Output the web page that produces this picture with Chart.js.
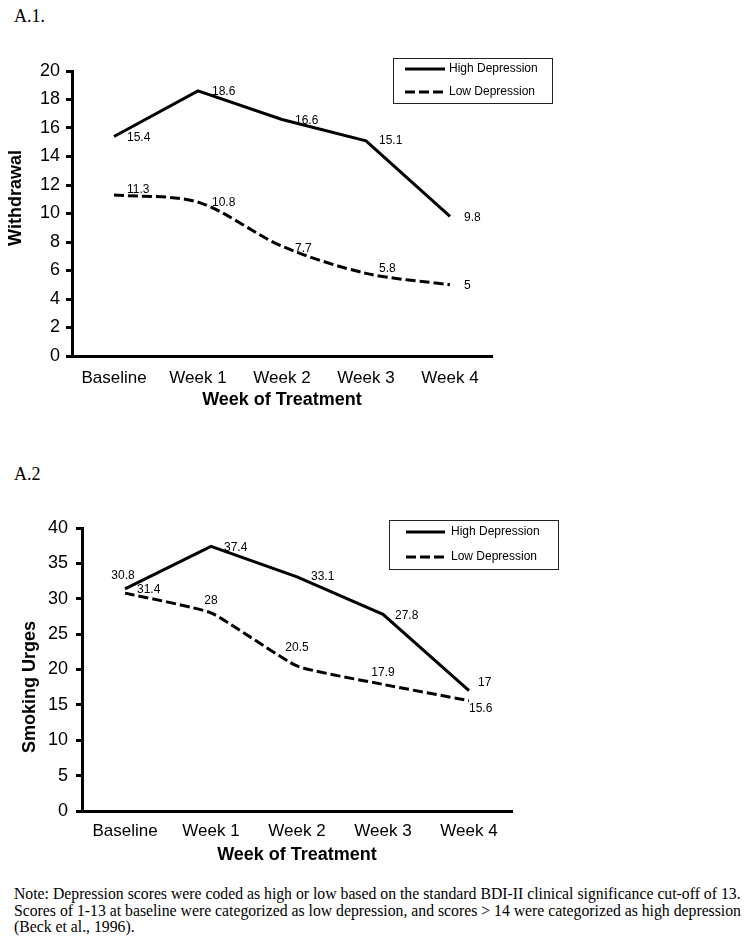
<!DOCTYPE html>
<html>
<head>
<meta charset="utf-8">
<title>Withdrawal and Smoking Urges by Depression Group</title>
<script src="https://cdn.jsdelivr.net/npm/chart.js@4.4.1/dist/chart.umd.min.js"></script>
<style>
    body { margin: 0; background: #fff; width: 751px; height: 947px; position: relative; overflow: hidden; }
    .panel-label { position: absolute; left: 14px; font: 18px "Liberation Serif", "Times New Roman", serif; color: #000; line-height: 20px; }
    .chart-box { position: absolute; left: 0; width: 751px; }
    #note { position: absolute; left: 14px; top: 886px; font: 16px/16.7px "Liberation Serif", "Times New Roman", serif; color: #000; white-space: nowrap; transform-origin: 0 0; }
</style>
</head>
<body>
<div class="panel-label" style="top:6px">A.1.</div>
<div class="chart-box" style="top:0; height:411px"><canvas id="grafico-abstinencia"></canvas></div>

<div class="panel-label" style="top:464px">A.2</div>
<div class="chart-box" style="top:440px; height:426px"><canvas id="grafico-urgencias"></canvas></div>

<div id="note">
    <div>Note: Depression scores were coded as high or low based on the standard BDI-II clinical significance cut-off of 13.</div>
    <div>Scores of 1-13 at baseline were categorized as low depression, and scores &gt; 14 were categorized as high depression</div>
    <div>(Beck et al., 1996).</div>
</div>

<script>
// --- DATOS ---
const weeks = ['Baseline', 'Week 1', 'Week 2', 'Week 3', 'Week 4'];
const seriesNames = ['High Depression', 'Low Depression'];

const withdrawalHigh = [15.4, 18.6, 16.6, 15.1, 9.8];
const withdrawalLow = [11.3, 10.8, 7.7, 5.8, 5];

const urgesHigh = [31.4, 37.4, 33.1, 27.8, 17];
const urgesLow = [30.8, 28, 20.5, 17.9, 15.6];

const withdrawalRange = [0, 20, 2];
const urgesRange = [0, 40, 5];

const SANS = '"Liberation Sans", Arial, Helvetica, sans-serif';

// --- PLUGINS ---
// etiquetas de valor junto a cada punto
const etiquetasPlugin = {
    id: 'etiquetas',
    afterDatasetsDraw(chart, args, opts) {
        const ctx = chart.ctx;
        ctx.save();
        ctx.font = '12px ' + SANS;
        ctx.fillStyle = '#000';
        ctx.textBaseline = 'middle';
        chart.data.datasets.forEach((ds, i) => {
            chart.getDatasetMeta(i).data.forEach((pt, j) => {
                const [dx, dy, align] = opts.offsets[i][j];
                ctx.textAlign = align || 'left';
                ctx.fillText(String(ds.data[j]), pt.x + dx, pt.y + dy);
            });
        });
        ctx.restore();
    }
};

// leyenda con recuadro, como en la figura original
const leyendaPlugin = {
    id: 'leyenda',
    afterDraw(chart, args, opts) {
        const ctx = chart.ctx;
        const b = opts.box;
        ctx.save();
        ctx.strokeStyle = '#222';
        ctx.lineWidth = 1;
        ctx.strokeRect(b.x + 0.5, b.y + 0.5, b.w, b.h);
        ctx.font = '12px ' + SANS;
        ctx.fillStyle = '#000';
        ctx.textBaseline = 'middle';
        ctx.textAlign = 'left';
        chart.data.datasets.forEach((ds, i) => {
            const y = b.rows[i];
            ctx.beginPath();
            ctx.setLineDash(ds.borderDash || []);
            ctx.lineWidth = 3;
            ctx.strokeStyle = '#000';
            ctx.moveTo(b.lineX[0], y);
            ctx.lineTo(b.lineX[1], y);
            ctx.stroke();
            ctx.setLineDash([]);
            ctx.fillText(ds.label, b.textX, y);
        });
        ctx.restore();
    }
};

// titulo vertical del eje Y
const tituloYPlugin = {
    id: 'tituloY',
    afterDraw(chart, args, opts) {
        const ctx = chart.ctx;
        ctx.save();
        ctx.translate(opts.x, opts.y);
        ctx.rotate(-Math.PI / 2);
        ctx.font = 'bold 18px ' + SANS;
        ctx.fillStyle = '#000';
        ctx.textAlign = 'center';
        ctx.textBaseline = 'middle';
        ctx.fillText(opts.text, 0, 0);
        ctx.restore();
    }
};

// --- FUNCION PARA CREAR CADA GRAFICO ---
const crearGrafico = (id, p) => {
    const [yMin, yMax, yStep] = p.range;
    return new Chart(document.getElementById(id), {
        type: 'line',
        data: {
            labels: weeks,
            datasets: [{
                label: seriesNames[0],
                data: p.high,
                borderColor: '#000',
                borderWidth: 3,
                pointRadius: 0,
                tension: 0
            }, {
                label: seriesNames[1],
                data: p.low,
                borderColor: '#000',
                borderWidth: 3,
                borderDash: [10, 4],
                pointRadius: 0,
                tension: p.lowTension
            }]
        },
        options: {
            responsive: true,
            maintainAspectRatio: false,
            animation: false,
            layout: { padding: { left: 0, right: p.padRight, top: p.padTop, bottom: 0 } },
            plugins: {
                legend: { display: false },
                tooltip: { enabled: false },
                etiquetas: { offsets: p.offsets },
                leyenda: { box: p.legendBox },
                tituloY: p.yTitle
            },
            scales: {
                x: {
                    offset: true,
                    grid: { display: false, drawTicks: false },
                    border: { display: true, color: '#000', width: 3 },
                    ticks: { color: '#000', padding: p.xTickPad, font: { family: SANS, size: 17 } },
                    title: {
                        display: true,
                        text: 'Week of Treatment',
                        color: '#000',
                        padding: 0,
                        font: { family: SANS, size: 18, weight: 'bold' }
                    },
                    afterFit: s => { s.height = p.xHeight; }
                },
                y: {
                    min: yMin,
                    max: yMax,
                    grid: { drawOnChartArea: false, drawTicks: true, tickLength: 6, color: '#000', lineWidth: 3 },
                    border: { display: true, color: '#000', width: 3 },
                    ticks: { stepSize: yStep, color: '#000', padding: p.yTickPad, font: { family: SANS, size: 18 } },
                    afterFit: s => { s.width = p.yWidth; }
                }
            }
        },
        plugins: [etiquetasPlugin, leyendaPlugin, tituloYPlugin]
    });
};

crearGrafico('grafico-abstinencia', {
    high: withdrawalHigh,
    low: withdrawalLow,
    range: withdrawalRange,
    lowTension: 0.3,
    padRight: 259,
    padTop: 71,
    xHeight: 55,
    xTickPad: 12,
    yWidth: 72,
    yTickPad: 6,
    yTitle: { text: 'Withdrawal', x: 16, y: 198 },
    legendBox: { x: 393, y: 58, w: 159, h: 45, rows: [69, 92], lineX: [405, 445], textX: 449 },
    offsets: [
        [[13, 1], [14, 1], [13, 1], [13, 0], [14, 1]],
        [[13, -5], [14, 1], [13, 2], [13, -5], [14, 1]]
    ]
});

crearGrafico('grafico-urgencias', {
    high: urgesHigh,
    low: urgesLow,
    range: urgesRange,
    lowTension: 0.15,
    padRight: 239,
    padTop: 88,
    xHeight: 55,
    xTickPad: 10,
    yWidth: 82,
    yTickPad: 8,
    yTitle: { text: 'Smoking Urges', x: 30, y: 247 },
    legendBox: { x: 389, y: 80, w: 169, h: 49, rows: [92, 117], lineX: [406, 445], textX: 451 },
    offsets: [
        [[12, 1], [13, 1], [14, 0], [12, 1], [9, -8]],
        [[-2, -17, 'center'], [0, -12, 'center'], [0, -18, 'center'], [0, -12, 'center'], [0, 8]]
    ]
});

// ajustar el ancho de la nota al de la figura original
const nota = document.getElementById('note');
const primeraLinea = nota.firstElementChild;
const anchoReal = primeraLinea.scrollWidth;
nota.style.transform = 'scaleX(' + (727 / anchoReal) + ')';
</script>
</body>
</html>
